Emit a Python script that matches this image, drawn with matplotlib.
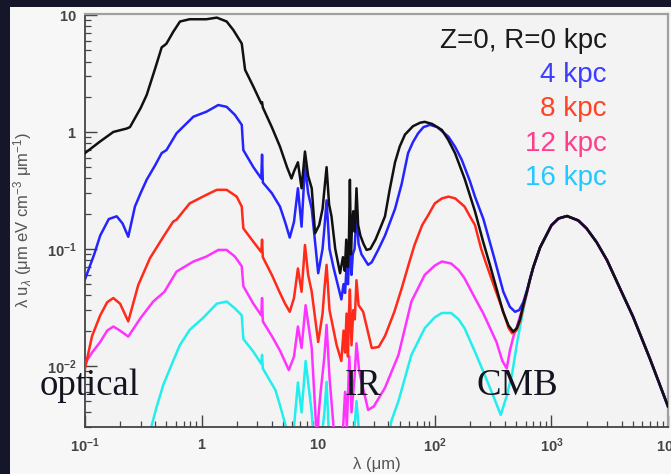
import numpy as np
import matplotlib
matplotlib.use('Agg')
import matplotlib.pyplot as plt
from matplotlib.patches import Rectangle

plt.rcParams['mathtext.fontset'] = 'custom'
plt.rcParams['mathtext.rm'] = 'Liberation Sans'
plt.rcParams['mathtext.it'] = 'Liberation Sans:italic'
plt.rcParams['mathtext.bf'] = 'Liberation Sans:bold'

# ---------------- data (wavelength in micron, lambda*u_lambda in eV cm^-3) -------------
LAM_R0 = [0.10, 0.135, 0.175, 0.228, 0.243, 0.30, 0.338, 0.40, 0.455, 0.48,
          0.50, 0.572, 0.653, 0.79, 1.1, 1.35, 1.64, 1.87, 2.21, 2.36,
          2.78, 3.25, 3.3, 3.35, 4.0, 4.7, 5.4, 5.9, 6.2, 6.7,
          7.2, 7.7, 8.2, 8.8, 9.4, 10.2, 10.9, 11.3, 11.8, 12.4,
          13.0, 14.0, 15.4, 16.3, 16.9, 17.4, 17.9, 18.3, 18.7, 19.1,
          19.5, 20.0, 20.6, 21.3, 22.0, 23.0, 24.5, 26.0, 28.0, 31.0,
          34.0, 37.4, 41.0, 45.6, 50.0, 55.5, 65.0, 75.0, 82.0, 95.0,
          115, 130, 149, 180, 221, 260, 297, 340, 385, 430,
          471, 505, 538, 574, 620, 656]
U_R0 = [0.66, 0.83, 1.0, 1.07, 1.1, 1.6, 2.07, 3.5, 5.3, 5.5,
        5.7, 7.2, 8.8, 9.2, 9.2, 9.5, 8.8, 7.45, 5.7, 3.4,
        2.44, 1.75, 1.8, 1.62, 1.1, 0.75, 0.50, 0.40, 0.46, 0.55,
        0.33, 0.68, 0.42, 0.33, 0.136, 0.16, 0.22, 0.32, 0.50, 0.24,
        0.19, 0.10, 0.062, 0.085, 0.065, 0.12, 0.07, 0.10, 0.39, 0.09,
        0.16, 0.21, 0.14, 0.33, 0.16, 0.13, 0.11, 0.098, 0.10, 0.12,
        0.15, 0.19, 0.32, 0.55, 0.75, 0.95, 1.12, 1.2, 1.22, 1.17,
        1.04, 0.86, 0.66, 0.40, 0.21, 0.115, 0.073, 0.045, 0.029, 0.022,
        0.0196, 0.021, 0.025, 0.033, 0.044, 0.055]

LAM_R4 = [0.10, 0.12, 0.135, 0.16, 0.187, 0.21, 0.235, 0.268, 0.30, 0.338,
          0.40, 0.455, 0.50, 0.61, 0.85, 1.1, 1.39, 1.64, 1.93, 2.21,
          2.28, 2.78, 3.25, 3.3, 3.35, 4.0, 4.7, 5.2, 5.7, 6.2,
          6.7, 7.2, 7.7, 8.2, 8.8, 10.0, 10.9, 11.3, 11.8, 12.5,
          13.5, 15.8, 16.5, 17.0, 17.5, 18.0, 18.7, 19.3, 19.8, 20.5,
          21.3, 22.2, 23.5, 26.8, 28.8, 33, 37.4, 45.6, 52, 59,
          65, 72, 80, 91, 105, 131, 150, 170, 200, 221,
          261, 318, 387, 440, 488, 530, 574, 620, 656]
U_R4 = [0.055, 0.09, 0.13, 0.18, 0.19, 0.165, 0.127, 0.23, 0.30, 0.39,
        0.52, 0.66, 0.70, 0.975, 1.35, 1.49, 1.70, 1.64, 1.40, 1.15,
        0.70, 0.50, 0.40, 0.64, 0.37, 0.30, 0.23, 0.17, 0.125, 0.17,
        0.33, 0.155, 0.52, 0.30, 0.22, 0.062, 0.10, 0.15, 0.26, 0.10,
        0.07, 0.037, 0.05, 0.042, 0.07, 0.05, 0.12, 0.06, 0.09, 0.10,
        0.20, 0.11, 0.09, 0.073, 0.077, 0.10, 0.13, 0.22, 0.36, 0.66,
        0.82, 0.975, 1.1, 1.15, 1.1, 0.91, 0.74, 0.58, 0.38, 0.28,
        0.18, 0.089, 0.043, 0.032, 0.029, 0.030, 0.035, 0.045, 0.056]

LAM_R8 = [0.10, 0.115, 0.135, 0.155, 0.175, 0.20, 0.235, 0.286, 0.36, 0.47,
          0.57, 0.61, 0.79, 1.1, 1.35, 1.64, 2.0, 2.21, 2.28, 2.78,
          3.25, 3.3, 3.35, 4.0, 4.7, 5.2, 5.7, 6.2, 6.7, 7.2,
          7.7, 8.2, 8.8, 10.0, 10.9, 11.3, 11.8, 12.5, 14.4, 15.8,
          16.5, 17.0, 17.5, 18.0, 18.4, 18.7, 19.3, 20.0, 20.6, 21.3,
          22.2, 24.3, 28.8, 33, 37.4, 45, 52, 60, 67, 78,
          88, 100, 115, 131, 150, 180, 200, 221, 250, 278,
          330, 387, 430, 460, 500, 538, 574, 620, 656]
U_R8 = [0.0095, 0.018, 0.027, 0.035, 0.038, 0.034, 0.024, 0.049, 0.083, 0.127,
        0.171, 0.178, 0.245, 0.29, 0.32, 0.32, 0.28, 0.23, 0.15, 0.115,
        0.094, 0.12, 0.085, 0.06, 0.042, 0.034, 0.029, 0.038, 0.068, 0.043,
        0.108, 0.06, 0.043, 0.016, 0.028, 0.045, 0.073, 0.03, 0.015, 0.011,
        0.02, 0.013, 0.028, 0.012, 0.03, 0.045, 0.015, 0.03, 0.025, 0.054,
        0.033, 0.029, 0.0142, 0.0145, 0.018, 0.029, 0.046, 0.075, 0.108, 0.16,
        0.195, 0.245, 0.27, 0.28, 0.27, 0.23, 0.19, 0.16, 0.10, 0.073,
        0.045, 0.029, 0.021, 0.019, 0.020, 0.024, 0.032, 0.044, 0.055]

LAM_R12 = [0.10, 0.115, 0.135, 0.155, 0.175, 0.20, 0.235, 0.30, 0.385, 0.48,
           0.61, 0.85, 1.1, 1.39, 1.64, 1.93, 2.21, 2.28, 2.78, 3.25,
           3.3, 3.35, 4.0, 4.7, 5.6, 6.2, 6.7, 7.2, 7.8, 8.8,
           9.7, 10.5, 11.3, 11.8, 12.5, 14.0, 16.0, 17.0, 17.6, 18.5,
           19.3, 20.5, 21.3, 22.5, 26.8, 30, 37.4, 48.8, 63, 82,
           100, 115, 138, 160, 180, 221, 261, 338, 380, 414,
           442, 474, 507, 540, 574, 620, 656]
U_R12 = [0.0105, 0.013, 0.016, 0.020, 0.0217, 0.020, 0.0178, 0.0257, 0.0355, 0.043,
         0.064, 0.078, 0.086, 0.098, 0.098, 0.086, 0.071, 0.048, 0.034, 0.027,
         0.038, 0.024, 0.018, 0.0135, 0.0092, 0.012, 0.0217, 0.0142, 0.033, 0.0142,
         0.0025, 0.006, 0.012, 0.0224, 0.008, 0.002, 0.002, 0.006, 0.003, 0.012,
         0.004, 0.008, 0.0156, 0.0089, 0.0042, 0.0045, 0.0065, 0.0124, 0.0355, 0.060,
         0.072, 0.078, 0.075, 0.066, 0.056, 0.038, 0.028, 0.016, 0.011, 0.0095,
         0.0137, 0.018, 0.0217, 0.027, 0.032, 0.043, 0.055]

LAM_R16 = [0.28, 0.33, 0.37, 0.41, 0.47, 0.57, 0.65, 0.79, 1.03, 1.35,
           1.64, 1.93, 2.21, 2.28, 2.78, 3.25, 3.3, 3.35, 4.3, 4.7,
           5.3, 5.8, 6.2, 6.7, 7.2, 7.8, 8.8, 9.7, 11.3, 11.8,
           12.5, 15.0, 18.0, 19.5, 21.3, 23.0, 27.0, 35.0, 42.5, 48.8,
           63, 82, 100, 115, 138, 160, 180, 221, 261, 318,
           368, 413, 460, 507, 538, 574, 620, 656]
U_R16 = [0.0012, 0.002, 0.003, 0.0044, 0.0069, 0.011, 0.015, 0.0203, 0.0257, 0.034,
         0.0355, 0.031, 0.027, 0.017, 0.0132, 0.0104, 0.0124, 0.0095, 0.0062, 0.0046,
         0.003, 0.0022, 0.003, 0.0072, 0.004, 0.011, 0.004, 0.001, 0.004, 0.0073,
         0.002, 0.0007, 0.002, 0.0015, 0.005, 0.002, 0.0008, 0.0012, 0.0034, 0.005,
         0.0124, 0.021, 0.026, 0.0283, 0.0283, 0.025, 0.021, 0.0132, 0.0089, 0.0055,
         0.0038, 0.0055, 0.0085, 0.0156, 0.0217, 0.030, 0.043, 0.055]

# common CMB-dominated tail
CMB_LAM = [700, 800, 1000, 1150, 1360, 1700, 2000, 2443, 3000, 3870, 5000, 7000, 10000]
CMB_U = [0.070, 0.103, 0.159, 0.182, 0.191, 0.175, 0.150, 0.114, 0.080, 0.046, 0.0265, 0.0115, 0.0045]

SERIES_NAMES = ['Z=0, R=0 kpc', '4 kpc', '8 kpc', '12 kpc', '16 kpc']
LINE_COLORS = ['#111111', '#2424ff', '#ff2a1a', '#ff33ff', '#22eeee']
TEXT_COLORS = ['#1a1a1a', '#3c3cff', '#ff4424', '#ff3d8c', '#22c8ff']

XTICKS = [0.1, 1, 10, 100, 1000, 10000]
XTICKLABELS = [r'$\mathbf{10^{-1}}$', r'$\mathbf{1}$', r'$\mathbf{10}$',
               r'$\mathbf{10^{2}}$', r'$\mathbf{10^{3}}$', r'$\mathbf{10^{4}}$']
YTICKS = [0.01, 0.1, 1, 10]
YTICKLABELS = [r'$\mathbf{10^{-2}}$', r'$\mathbf{10^{-1}}$', r'$\mathbf{1}$', r'$\mathbf{10}$']

BAND_LABELS = ['optical', 'IR', 'CMB']
YLABEL = 'λ u$_{λ}$ (μm eV cm$^{-3}$ μm$^{-1}$)'
XLABEL = 'λ (μm)'

# ---------------- figure ----------------
W, H = 671, 474
fig = plt.figure(figsize=(W / 100, H / 100), dpi=100, facecolor='#16162a')
fig.patches.append(Rectangle((10 / W, 0), 1 - 10 / W, 1 - 7 / H, transform=fig.transFigure,
                             facecolor='#f7f7f7', edgecolor='none', zorder=-10))
ax = fig.add_axes([85 / W, 1 - 427 / H, 583 / W, 413 / H])
ax.set_zorder(1)
ax.set_facecolor('#f3f3f3')

series = [(LAM_R0, U_R0), (LAM_R4, U_R4), (LAM_R8, U_R8), (LAM_R12, U_R12), (LAM_R16, U_R16)]
order = [4, 3, 2, 1, 0]
for k, i in enumerate(order):
    lam, u = series[i]
    assert len(lam) == len(u)
    x = np.array(list(lam) + CMB_LAM, dtype=float)
    y = np.array(list(u) + CMB_U, dtype=float)
    ax.plot(x, y, color=LINE_COLORS[i], lw=1.8, solid_joinstyle='round', zorder=2 + k)

ax.set_xscale('log')
ax.set_yscale('log')
ax.set_xlim(0.1, 1e4)
ax.set_ylim(0.003, 10.2)

ax.set_xticks(XTICKS)
ax.set_xticklabels(XTICKLABELS)
ax.set_yticks(YTICKS)
ax.set_yticklabels(YTICKLABELS)
ax.tick_params(axis='both', which='both', direction='in', colors='#444444',
               top=False, right=False)
ax.tick_params(axis='both', which='major', length=8.5, width=1.0, labelsize=10.5)
ax.tick_params(axis='both', which='minor', length=4.5, width=0.9)
ax.tick_params(axis='x', which='major', pad=7)
ax.tick_params(axis='y', which='major', pad=6)
for lab in ax.get_xticklabels() + ax.get_yticklabels():
    lab.set_color('#444444')

for side in ['left', 'bottom']:
    ax.spines[side].set_color('#444444')
    ax.spines[side].set_linewidth(1.3)
for side in ['top', 'right']:
    ax.spines[side].set_color('#a0a0a0')
    ax.spines[side].set_linewidth(1.6)

# axis titles
fig.text(23 / W, 1 - 220 / H, YLABEL, rotation=90, ha='center', va='center',
         fontsize=12, color='#555555', family='Liberation Sans')
fig.text(377 / W, 1 - 464 / H, XLABEL, ha='center', va='center',
         fontsize=12, color='#555555', family='Liberation Sans')

# legend-like labels
baselines = [48.5, 82, 116.5, 151, 185]
for name, col, yb in zip(SERIES_NAMES, TEXT_COLORS, baselines):
    fig.text(607 / W, 1 - yb / H, name, ha='right', va='baseline', color=col,
             fontsize=20, family='Liberation Sans', zorder=10)

# band labels
band_x = [40, 345, 477]
for txt, xp in zip(BAND_LABELS, band_x):
    fig.text(xp / W, 1 - 395 / H, txt, ha='left', va='baseline', color='#141420',
             fontsize=26.5, family='Liberation Serif', zorder=10)

fig.savefig('out.png', dpi=100, facecolor=fig.get_facecolor())
